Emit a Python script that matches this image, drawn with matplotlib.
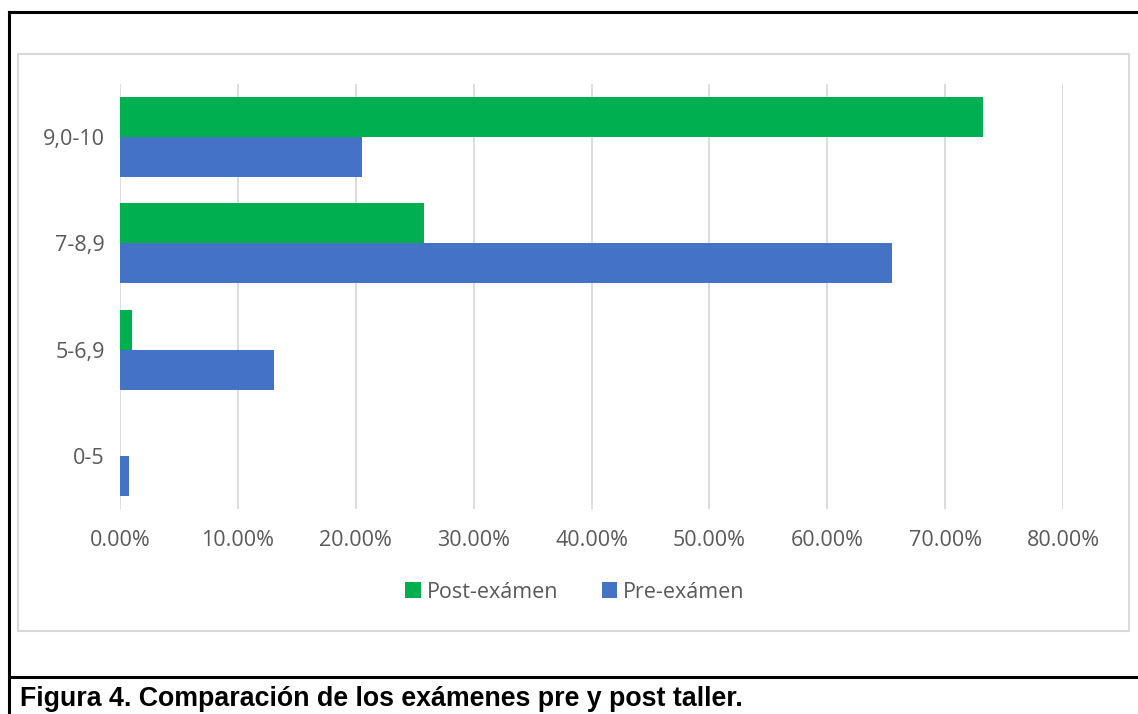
import numpy as np
import matplotlib.pyplot as plt
from matplotlib.patches import Rectangle
from matplotlib.lines import Line2D
from matplotlib.ticker import FuncFormatter

categories = ['0-5', '5-6,9', '7-8,9', '9,0-10']
post_examen = [0.0, 1.0, 25.8, 73.2]
pre_examen = [0.8, 13.1, 65.5, 20.5]
x_ticks = [0, 10, 20, 30, 40, 50, 60, 70, 80]

W, H = 1138, 714
fig = plt.figure(figsize=(W / 100, H / 100), dpi=100)
plt.rcParams['font.family'] = ['Open Sans', 'DejaVu Sans']

def fx(px):
    return px / W

def fy(py):
    return 1 - py / H

# outer table frame (black)
fig.add_artist(Line2D([fx(9), fx(9)], [fy(12), fy(714)], color='black', lw=2.2))
fig.add_artist(Line2D([fx(9), fx(1140)], [fy(12), fy(12)], color='black', lw=2.2))
fig.add_artist(Line2D([fx(9), fx(1140)], [fy(677), fy(677)], color='black', lw=2.2))

# chart area border (light grey)
fig.add_artist(Rectangle((fx(18), fy(631)), fx(1129) - fx(18), fy(54) - fy(631),
                         fill=False, edgecolor='#d9d9d9', lw=1.5))

ax = fig.add_axes([fx(120), fy(509), fx(1063) - fx(120), fy(84) - fy(509)])

y = np.arange(len(categories))
h = 0.376
ax.barh(y + h / 2, post_examen, height=h, color='#00b050', label='Post-exámen')
ax.barh(y - h / 2, pre_examen, height=h, color='#4472c4', label='Pre-exámen')

ax.set_xlim(0, 80)
ax.set_ylim(-0.5, len(categories) - 0.5)
ax.set_xticks(x_ticks)
ax.xaxis.set_major_formatter(FuncFormatter(lambda v, p: f'{v:.2f}%'))
ax.set_yticks(y)
ax.set_yticklabels(categories)
ax.tick_params(axis='both', length=0, labelsize=15.5, labelcolor='#595959')
ax.tick_params(axis='x', pad=15)
ax.tick_params(axis='y', pad=11)
ax.grid(axis='x', color='#d9d9d9', lw=1.3)
ax.set_axisbelow(True)
for s in ax.spines.values():
    s.set_visible(False)

leg = fig.legend(loc='center', bbox_to_anchor=(fx(575), fy(592)), ncol=2, frameon=False,
                 fontsize=15.5, handlelength=0.7, handleheight=0.7, handletextpad=0.3,
                 columnspacing=2.0)
for t in leg.get_texts():
    t.set_color('#595959')

fig.text(fx(20), fy(699), 'Figura 4. Comparación de los exámenes pre y post taller.',
         fontsize=19.3, fontweight='bold', family='Liberation Sans', va='center', ha='left')

fig.savefig('out.png', dpi=100)
